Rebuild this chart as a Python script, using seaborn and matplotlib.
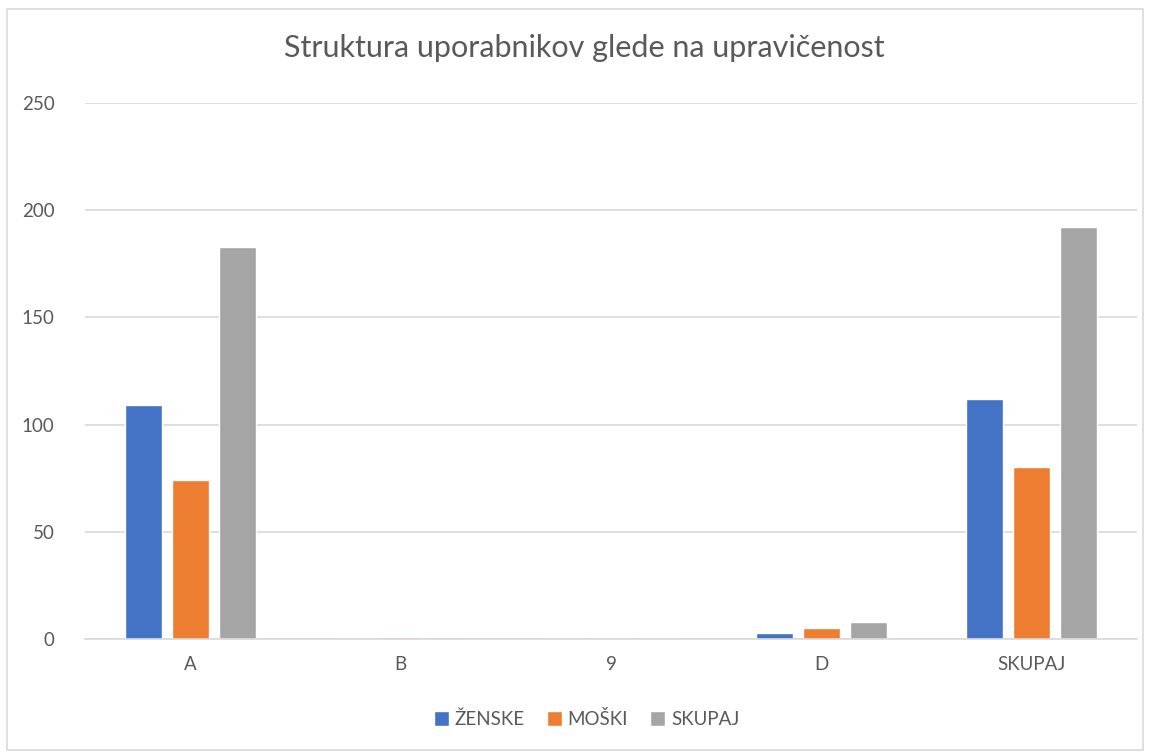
import matplotlib
matplotlib.use("Agg")
import matplotlib.pyplot as plt
from matplotlib.patches import Rectangle
import pandas as pd
import seaborn as sns

categories = ["A", "B", "9", "D", "SKUPAJ"]
zenske = [109, 0, 0, 3, 112]
moski = [74, 1, 0, 5, 80]
skupaj = [183, 1, 0, 8, 192]
series_names = ["ŽENSKE", "MOŠKI", "SKUPAJ"]
y_ticks = [0, 50, 100, 150, 200, 250]

sns.set_theme(style="white")
plt.rcParams["font.family"] = ["Lato", "DejaVu Sans"]

df = pd.DataFrame({
    "kategorija": categories * 3,
    "vrednost": zenske + moski + skupaj,
    "serija": [s for s in series_names for _ in categories],
})

palette = {"ŽENSKE": "#4472C4", "MOŠKI": "#ED7D31", "SKUPAJ": "#A5A5A5"}
text_col = "#595959"

fig = plt.figure(figsize=(11.5, 7.53), dpi=100)
ax = fig.add_axes([0.074, 0.1514, 0.9147, 0.7118])
sns.barplot(data=df, x="kategorija", y="vrednost", hue="serija", order=categories,
            hue_order=series_names, palette=palette, width=0.671, gap=0.213,
            saturation=1, ax=ax)

ax.set_xlim(-0.5, len(categories) - 0.5)
ax.set_ylim(0, 250)
ax.set_yticks(y_ticks)
ax.yaxis.grid(True, color="#D9D9D9", linewidth=1.2)
ax.set_axisbelow(True)
for side in ["top", "right", "left"]:
    ax.spines[side].set_visible(False)
ax.spines["bottom"].set_color("#D9D9D9")
ax.spines["bottom"].set_linewidth(1.2)
ax.tick_params(axis="both", length=0, labelsize=13.5, colors=text_col)
ax.tick_params(axis="y", pad=22)
ax.tick_params(axis="x", pad=12)
ax.set_xlabel("")
ax.set_ylabel("")

fig.suptitle("Struktura uporabnikov glede na upravičenost", x=0.508, y=0.955,
             fontsize=22, color=text_col, fontweight="normal")

handles, labels = ax.get_legend_handles_labels()
ax.legend_.remove()
fig.legend(handles, labels, loc="center", bbox_to_anchor=(0.51, 0.045), ncol=3,
           frameon=False, fontsize=13.5, labelcolor=text_col, handlelength=0.8,
           handleheight=0.8, handletextpad=0.3, columnspacing=1.2)

fig.patches.append(Rectangle((0.006, 0.004), 0.988, 0.984, transform=fig.transFigure,
                             fill=False, edgecolor="#D9D9D9", linewidth=1.2))

fig.savefig("out.png", dpi=100)
plt.close(fig)
